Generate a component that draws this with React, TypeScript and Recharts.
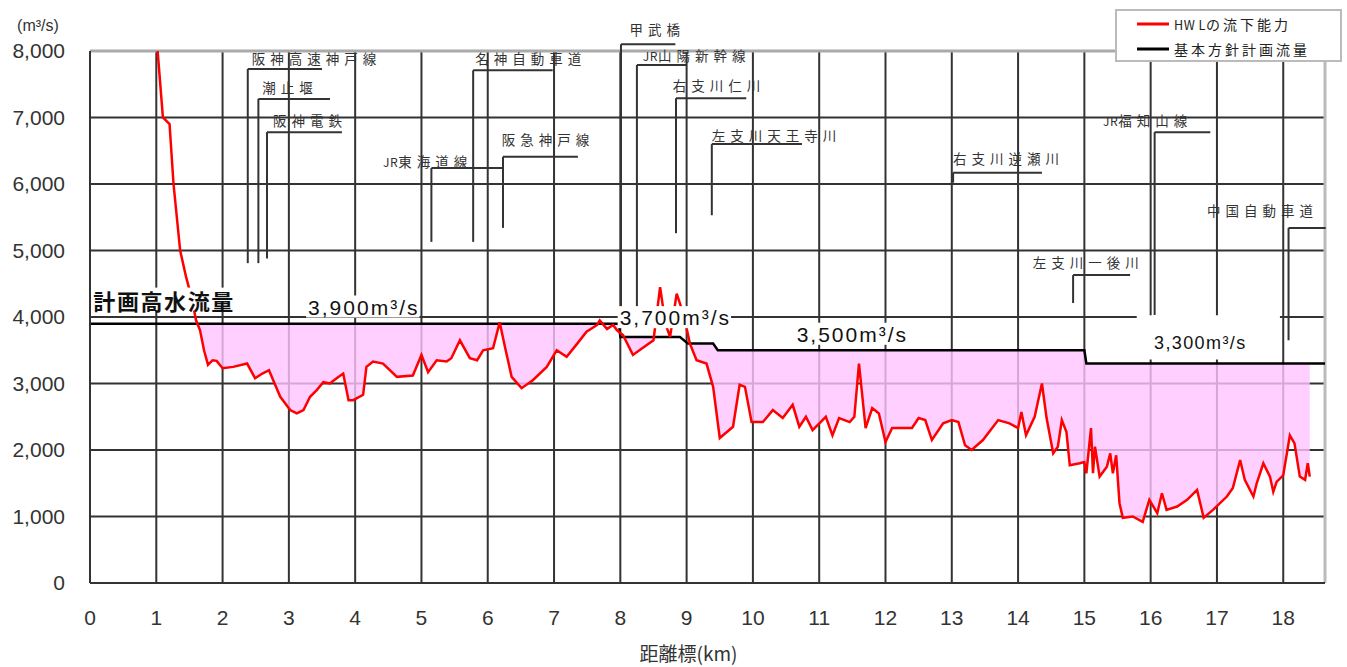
import React from "react";
import {
  ComposedChart, Line, Area, XAxis, YAxis, CartesianGrid, ReferenceLine,
  ReferenceDot, ReferenceArea, Legend,
} from "recharts";

const JP = '"Noto Sans CJK JP", "Noto Sans", sans-serif';
const NUM = '"Liberation Sans", Arial, sans-serif';

const xTicks = [0, 1, 2, 3, 4, 5, 6, 7, 8, 9, 10, 11, 12, 13, 14, 15, 16, 17, 18];
const yTicks = [0, 1000, 2000, 3000, 4000, 5000, 6000, 7000, 8000];
const xMax = 18.63;

// HWLの流下能力 (m3/s)
const hwlKm = [
  1.02, 1.1, 1.2, 1.26, 1.36, 1.45, 1.53, 1.6, 1.66, 1.72, 1.78, 1.85, 1.91, 2.0, 2.16, 2.37, 2.49, 2.6, 2.7, 2.87,
  3.02, 3.12, 3.22, 3.32, 3.42, 3.52, 3.62, 3.72, 3.82, 3.9, 3.97, 4.12, 4.17, 4.27, 4.42, 4.63, 4.87, 5.0, 5.1, 5.23,
  5.38, 5.45, 5.58, 5.73, 5.84, 5.93, 6.08, 6.18, 6.26, 6.36, 6.51, 6.68, 6.89, 7.04, 7.19, 7.35, 7.49, 7.65, 7.69, 7.8,
  7.89, 7.95, 8.04, 8.19, 8.33, 8.5, 8.6, 8.68, 8.75, 8.85, 8.95, 9.05, 9.15, 9.3, 9.4, 9.5, 9.7, 9.8, 9.88, 9.98,
  10.15, 10.3, 10.45, 10.6, 10.7, 10.8, 10.9, 11.1, 11.2, 11.3, 11.46, 11.53, 11.6, 11.7, 11.8, 11.9, 12.0, 12.1, 12.4, 12.5,
  12.6, 12.7, 12.87, 13.0, 13.1, 13.2, 13.3, 13.47, 13.7, 13.87, 14.0, 14.05, 14.12, 14.25, 14.36, 14.43, 14.53, 14.6, 14.66, 14.73,
  14.78, 14.93, 15.0, 15.03, 15.1, 15.13, 15.16, 15.23, 15.34, 15.39, 15.43, 15.48, 15.53, 15.58, 15.73, 15.88, 15.98, 16.1, 16.17, 16.24,
  16.4, 16.55, 16.7, 16.8, 16.94, 17.15, 17.24, 17.35, 17.42, 17.55, 17.6, 17.7, 17.8, 17.85, 17.9, 18.0, 18.1, 18.17, 18.25, 18.33,
  18.37, 18.4,
];
const hwlFlow = [
  8000, 7000, 6900, 6000, 5000, 4600, 4300, 3950, 3800, 3500, 3280, 3350, 3340, 3230, 3250, 3300, 3080, 3150, 3200, 2800,
  2600, 2550, 2600, 2800, 2900, 3020, 3000, 3080, 3150, 2750, 2750, 2830, 3250, 3330, 3300, 3100, 3120, 3430, 3170, 3350,
  3330, 3380, 3650, 3380, 3350, 3500, 3530, 3920, 3550, 3100, 2930, 3050, 3250, 3500, 3400, 3600, 3780, 3880, 3950, 3820,
  3880, 3800, 3730, 3430, 3530, 3650, 4450, 3900, 3700, 4350, 4050, 3600, 3350, 3300, 2950, 2180, 2350, 2980, 2950, 2420,
  2420, 2600, 2480, 2680, 2350, 2500, 2300, 2500, 2220, 2480, 2420, 2500, 3300, 2330, 2630, 2550, 2120, 2330, 2330, 2480,
  2450, 2150, 2400, 2450, 2420, 2070, 2000, 2150, 2450, 2400, 2330, 2570, 2220, 2500, 3000, 2480, 1950, 2050, 2450, 2270,
  1770, 1800, 1820, 1650, 2330, 1650, 2050, 1600, 1750, 1950, 1650, 1920, 1200, 980, 1000, 920, 1250, 1050, 1350, 1100,
  1150, 1250, 1400, 980, 1100, 1300, 1430, 1850, 1550, 1300, 1500, 1800, 1600, 1370, 1520, 1620, 2220, 2100, 1600, 1550,
  1800, 1600,
];

// 基本方針計画流量 (step line)
const planKm = [0, 7.98, 8.0, 8.9, 9.02, 9.4, 9.47, 15.0, 15.03, xMax];
const planFlow = [3900, 3900, 3700, 3700, 3600, 3600, 3500, 3500, 3300, 3300];

// [name, stem km, stem bottom, bar level, bar end km, label km, label level]
const landmarks: [string, number, number, number, number, number, number][] = [
  ["阪神高速神戸線", 2.38, 4810, 7730, 3.5, 2.44, 7890],
  ["潮止堰", 2.54, 4810, 7280, 3.62, 2.6, 7460],
  ["阪神電鉄", 2.67, 4880, 6780, 3.8, 2.76, 6960],
  ["JR東海道線", 5.15, 5130, 6240, 6.23, 4.42, 6340],
  ["名神自動車道", 5.78, 5130, 7710, 6.98, 5.81, 7890],
  ["阪急神戸線", 6.23, 5340, 6410, 7.36, 6.21, 6680],
  ["甲武橋", 8.01, 4060, 8100, 8.83, 8.14, 8330],
  ["JR山陽新幹線", 8.25, 4150, 7790, 9.0, 8.34, 7940],
  ["右支川仁川", 8.84, 5260, 7290, 9.9, 8.79, 7490],
  ["左支川天王寺川", 9.38, 5530, 6600, 10.74, 9.38, 6740],
  ["右支川逆瀬川", 13.02, 6020, 6170, 14.36, 13.02, 6390],
  ["JR福知山線", 16.06, 4030, 6780, 16.9, 15.28, 6960],
  ["中国自動車道", 18.08, 3650, 5340, 18.64, 16.85, 5610],
  ["左支川一後川", 14.83, 4210, 4630, 15.69, 14.22, 4830],
];

// [text, km, level, font size, letter spacing]
const flowTags: [string, number, number, number, number][] = [
  ["計画高水流量", 0.05, 4260, 22, 1.6],
  ["3,900m³/s", 3.29, 4150, 21, 2],
  ["3,700m³/s", 7.99, 3990, 21, 2],
  ["3,500m³/s", 10.66, 3740, 21, 2],
  ["3,300m³/s", 16.05, 3610, 18, 1.4],
];

const planAt = (x: number) => {
  let v = planFlow[0];
  planKm.forEach((k, i) => { if (k <= x) v = planFlow[i]; });
  return v;
};

const hwlData = hwlKm.map((x, i) => ({ x, hwl: hwlFlow[i] }));
const planData = planKm.map((x, i) => ({ x, plan: planFlow[i] }));
const bandData = hwlKm.map((x, i) => ({ x, band: [Math.min(hwlFlow[i], planAt(x)), planAt(x)] }));

const charW = (c: string) => {
  if (/[0-9]/.test(c)) return 0.556;
  if (c === "," || c === "/") return 0.278;
  if (c === "m") return 0.833;
  if (c === "s") return 0.5;
  if (c === "³") return 0.333;
  return 1;
};

const tagLabel = (text: string, size: number, spacing: number) => (p: any) => {
  const { x, y } = p.viewBox;
  const w = text.split("").reduce((s, c) => s + charW(c) * size + spacing, 0);
  const cjk = /[^\x00-\x7f³]/.test(text);
  return (
    <g>
      <rect x={x - 2} y={y - size * 0.55} width={w + 2} height={size * 1.05} fill="#fff" />
      <text x={x} y={y} dominantBaseline="central" fontSize={size} letterSpacing={spacing}
        fontFamily={cjk ? JP : NUM} fontWeight={cjk ? 700 : 400} fill="#111">{text}</text>
    </g>
  );
};

// latin runs (JR, HW L) stay tight, kanji get the wide spacing of the original
const spacedRuns = (text: string, wide: number) =>
  (text.match(/[\x00-\x7f]+|[^\x00-\x7f]+/g) || []).map((run, i) => (
    <tspan key={i} letterSpacing={/[\x00-\x7f]/.test(run) ? 0.5 : wide}
      fontSize={/[\x00-\x7f]/.test(run) ? "0.9em" : undefined}>{run}</tspan>
  ));

const nameLabel = (text: string) => (p: any) => {
  const { x, y } = p.viewBox;
  return (
    <text x={x} y={y} dominantBaseline="central" fontSize={13.5}
      fontFamily={JP} fill="#333">{spacedRuns(text, 5)}</text>
  );
};

const LegendBox = () => (
  <div style={{
    width: 227, height: 53, boxSizing: "border-box", border: "2px solid #bbb", background: "#fff",
    fontFamily: JP, fontSize: 14, color: "#222", position: "relative",
  }}>
    {[["#ff0000", "HW Lの流下能力"], ["#000", "基本方針計画流量"]].map(([c, t], i) => (
      <div key={t} style={{ position: "absolute", left: 20, top: 3 + i * 25, height: 20, display: "flex", alignItems: "center" }}>
        <svg width={32} height={4} style={{ marginRight: 5 }}>
          <line x1={0} y1={2} x2={32} y2={2} stroke={c} strokeWidth={3} />
        </svg>
        <svg width={150} height={20}>
          <text x={0} y={10} dominantBaseline="central" fontSize={14} fontFamily={JP} fill="#222">
            {spacedRuns(t, 3)}
          </text>
        </svg>
      </div>
    ))}
  </div>
);

export default function App() {
  return (
    <div style={{ position: "absolute", left: 0, top: 0, width: 1347, height: 667, background: "#fff" }}>
      <ComposedChart width={1347} height={667} margin={{ top: 51, right: 22, bottom: 0, left: 0 }}>
        <CartesianGrid stroke="#333" strokeWidth={2} />
        <XAxis
          type="number" dataKey="x" domain={[0, xMax]} ticks={xTicks} allowDataOverflow
          height={84} tickSize={0} tickMargin={27} axisLine={{ stroke: "#333", strokeWidth: 2 }}
          tick={{ fontSize: 21, fill: "#333", fontFamily: NUM }}
          label={{
            content: (p: any) => (
              <text x={p.viewBox.x + p.viewBox.width / 2 - 19} y={652} textAnchor="middle" dominantBaseline="central"
                fontSize={19} fontFamily={JP} fill="#333">距離標(km)</text>
            ),
          }}
        />
        <YAxis
          type="number" domain={[0, 8000]} ticks={yTicks} allowDataOverflow width={90}
          tickSize={0} tickMargin={25} axisLine={{ stroke: "#333", strokeWidth: 2 }}
          tick={{ fontSize: 21, fill: "#333", fontFamily: NUM }}
          tickFormatter={(v) => Number(v).toLocaleString("en-US")}
          label={{
            content: () => (
              <text x={38} y={25} textAnchor="middle" dominantBaseline="central"
                fontSize={16} fontFamily={NUM} fill="#333">(m³/s)</text>
            ),
          }}
        />
        <ReferenceLine y={8000} stroke="#aaa" strokeWidth={3} />
        <ReferenceLine x={xMax} stroke="#bbb" strokeWidth={3} />

        <Area data={bandData} dataKey="band" type="linear" stroke="none" fill="#ffc4ff" fillOpacity={0.8}
          isAnimationActive={false} />

        <ReferenceArea x1={15.79} x2={17.95} y1={3360} y2={4025} fill="#fff" fillOpacity={1} stroke="none" ifOverflow="visible" />

        {landmarks.map(([name, sx, sb, by, be]) => (
          <React.Fragment key={name}>
            <ReferenceLine segment={[{ x: sx, y: sb }, { x: sx, y: by }]} stroke="#333" strokeWidth={2} ifOverflow="visible" />
            <ReferenceLine segment={[{ x: sx, y: by }, { x: be, y: by }]} stroke="#333" strokeWidth={2} ifOverflow="visible" />
          </React.Fragment>
        ))}

        <Line data={planData} dataKey="plan" type="linear" stroke="#000" strokeWidth={2.5} dot={false}
          isAnimationActive={false} />
        <Line data={hwlData} dataKey="hwl" type="linear" stroke="#ff0000" strokeWidth={2.5} dot={false}
          isAnimationActive={false} />

        {landmarks.map(([name, , , , , lx, ly]) => (
          <ReferenceDot key={"l" + name} x={lx} y={ly} r={0} stroke="none" fill="none" ifOverflow="visible"
            label={nameLabel(name)} />
        ))}
        {flowTags.map(([t, x, y, s, sp]) => (
          <ReferenceDot key={t} x={x} y={y} r={0} stroke="none" fill="none" ifOverflow="visible"
            label={tagLabel(t, s, sp)} />
        ))}

        <Legend layout="vertical" align="center" verticalAlign="middle"
          wrapperStyle={{ position: "absolute", left: 1115, top: 9, width: 227, height: 53 }}
          content={() => <LegendBox />} />
      </ComposedChart>
    </div>
  );
}
